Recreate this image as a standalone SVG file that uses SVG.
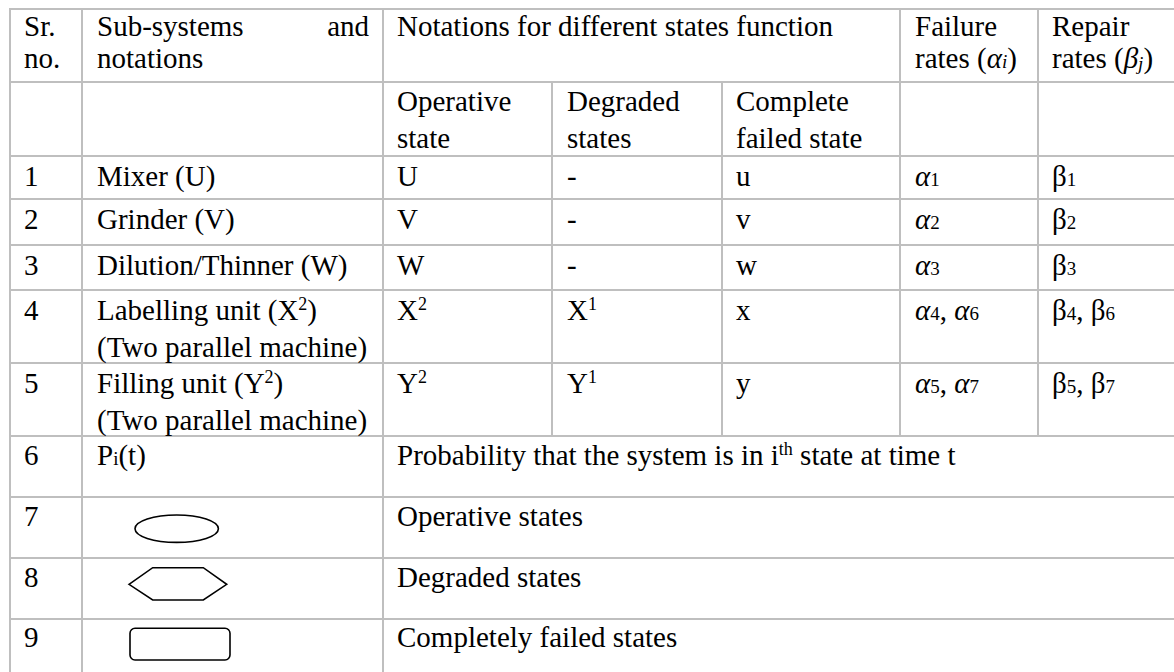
<svg xmlns="http://www.w3.org/2000/svg" width="1174" height="672" viewBox="0 0 1174 672">
<style>
text { font-family: "Liberation Serif", "Times New Roman", serif; font-size: 29px; fill: #000; }
#grid line { stroke: #bfbfbf; stroke-width: 2; }
.sub { font-size: 19px; }
.sup { font-size: 18px; }
.it { font-style: italic; }
.shape { fill: none; stroke: #000; stroke-width: 1.6; }
</style>
<rect width="1174" height="672" fill="#fff"/>
<g id="grid">
  <line x1="9" y1="9" x2="1174" y2="9"/>
  <line x1="9" y1="82" x2="1174" y2="82"/>
  <line x1="9" y1="156" x2="1174" y2="156"/>
  <line x1="9" y1="199" x2="1174" y2="199"/>
  <line x1="9" y1="245" x2="1174" y2="245"/>
  <line x1="9" y1="290" x2="1174" y2="290"/>
  <line x1="9" y1="363" x2="1174" y2="363"/>
  <line x1="9" y1="436" x2="1174" y2="436"/>
  <line x1="9" y1="497" x2="1174" y2="497"/>
  <line x1="9" y1="558" x2="1174" y2="558"/>
  <line x1="9" y1="619" x2="1174" y2="619"/>
  <line x1="10" y1="8" x2="10" y2="672"/>
  <line x1="82" y1="8" x2="82" y2="672"/>
  <line x1="383" y1="8" x2="383" y2="672"/>
  <line x1="552" y1="82" x2="552" y2="436"/>
  <line x1="722" y1="82" x2="722" y2="436"/>
  <line x1="900" y1="8" x2="900" y2="436"/>
  <line x1="1038" y1="8" x2="1038" y2="436"/>
</g>
<g id="header">
  <text x="24" y="36">Sr.</text>
  <text x="24" y="68">no.</text>
  <text x="97" y="36">Sub-systems</text>
  <text x="369" y="36" text-anchor="end">and</text>
  <text x="97" y="68">notations</text>
  <text x="397" y="36">Notations for different states function</text>
  <text x="915" y="36">Failure</text>
  <text x="915" y="68">rates (<tspan class="it">α</tspan><tspan class="it sub">i</tspan>)</text>
  <text x="1052" y="36">Repair</text>
  <text x="1052" y="68">rates (<tspan class="it">β</tspan><tspan class="it sub" dy="2">j</tspan><tspan dy="-2">)</tspan></text>
  <text x="397" y="111">Operative</text>
  <text x="397" y="148">state</text>
  <text x="567" y="111">Degraded</text>
  <text x="567" y="148">states</text>
  <text x="736" y="111">Complete</text>
  <text x="736" y="148">failed state</text>
</g>
<g id="row1">
  <text x="24" y="185.5">1</text>
  <text x="97" y="185.5">Mixer (U)</text>
  <text x="397" y="185.5">U</text>
  <text x="567" y="185.5">-</text>
  <text x="736" y="185.5">u</text>
  <text x="915" y="185.5"><tspan class="it">α</tspan><tspan class="sub">1</tspan></text>
  <text x="1052" y="185.5">β<tspan class="sub">1</tspan></text>
</g>
<g id="row2">
  <text x="24" y="228.5">2</text>
  <text x="97" y="228.5">Grinder (V)</text>
  <text x="397" y="228.5">V</text>
  <text x="567" y="228.5">-</text>
  <text x="736" y="228.5">v</text>
  <text x="915" y="228.5"><tspan class="it">α</tspan><tspan class="sub">2</tspan></text>
  <text x="1052" y="228.5">β<tspan class="sub">2</tspan></text>
</g>
<g id="row3">
  <text x="24" y="274.5">3</text>
  <text x="97" y="274.5">Dilution/Thinner (W)</text>
  <text x="397" y="274.5">W</text>
  <text x="567" y="274.5">-</text>
  <text x="736" y="274.5">w</text>
  <text x="915" y="274.5"><tspan class="it">α</tspan><tspan class="sub">3</tspan></text>
  <text x="1052" y="274.5">β<tspan class="sub">3</tspan></text>
</g>
<g id="row4">
  <text x="24" y="319.5">4</text>
  <text x="97" y="319.5">Labelling unit (X<tspan class="sup" dy="-10">2</tspan><tspan dy="10">)</tspan></text>
  <text x="97" y="357">(Two parallel machine)</text>
  <text x="397" y="319.5">X<tspan class="sup" dy="-10">2</tspan></text>
  <text x="567" y="319.5">X<tspan class="sup" dy="-10">1</tspan></text>
  <text x="736" y="319.5">x</text>
  <text x="915" y="319.5"><tspan class="it">α</tspan><tspan class="sub">4</tspan>, <tspan class="it">α</tspan><tspan class="sub">6</tspan></text>
  <text x="1052" y="319.5">β<tspan class="sub">4</tspan>, β<tspan class="sub">6</tspan></text>
</g>
<g id="row5">
  <text x="24" y="393">5</text>
  <text x="97" y="393">Filling unit (Y<tspan class="sup" dy="-10">2</tspan><tspan dy="10">)</tspan></text>
  <text x="97" y="430">(Two parallel machine)</text>
  <text x="397" y="393">Y<tspan class="sup" dy="-10">2</tspan></text>
  <text x="567" y="393">Y<tspan class="sup" dy="-10">1</tspan></text>
  <text x="736" y="393">y</text>
  <text x="915" y="393"><tspan class="it">α</tspan><tspan class="sub">5</tspan>, <tspan class="it">α</tspan><tspan class="sub">7</tspan></text>
  <text x="1052" y="393">β<tspan class="sub">5</tspan>, β<tspan class="sub">7</tspan></text>
</g>
<g id="row6">
  <text x="24" y="465">6</text>
  <text x="97" y="465">P<tspan class="sub">i</tspan>(t)</text>
  <text x="397" y="465">Probability that the system is in i<tspan class="sup" dy="-10">th</tspan><tspan dy="10"> state at time t</tspan></text>
</g>
<g id="row7">
  <text x="24" y="526">7</text>
  <ellipse class="shape" cx="176.7" cy="528.7" rx="41.7" ry="13.7"/>
  <text x="397" y="526">Operative states</text>
</g>
<g id="row8">
  <text x="24" y="587">8</text>
  <polygon class="shape" points="129,584.3 152.7,567.7 203.3,567.7 226.7,584.3 203.3,600 152.7,600"/>
  <text x="397" y="587">Degraded states</text>
</g>
<g id="row9">
  <text x="24" y="647">9</text>
  <rect class="shape" x="130" y="628.3" width="100" height="31.7" rx="5"/>
  <text x="397" y="647">Completely failed states</text>
</g>
</svg>
